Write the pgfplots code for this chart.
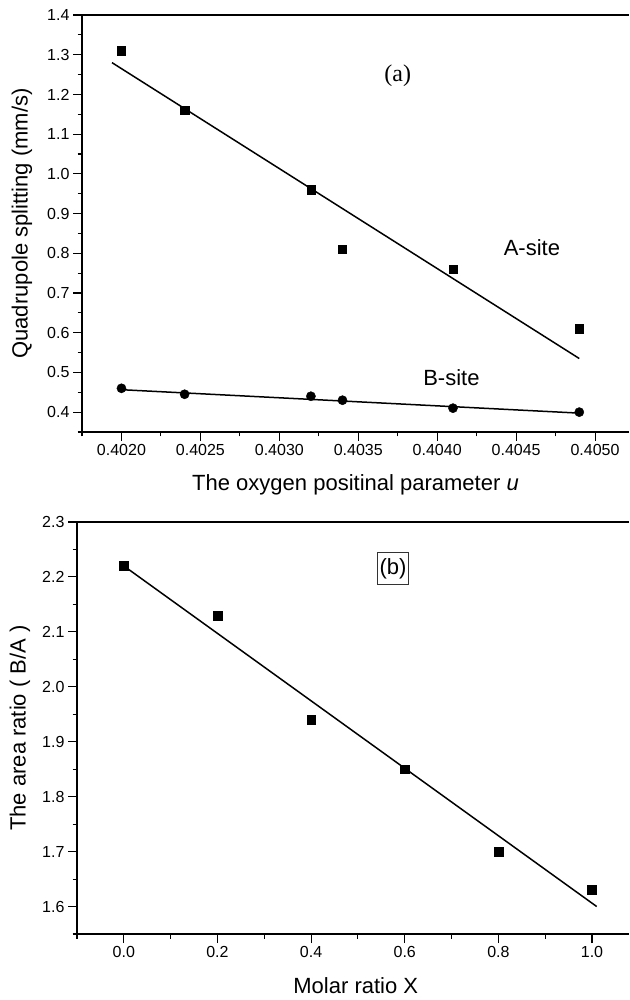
\documentclass[border=0pt]{standalone}
\usepackage{fontspec}
\setmainfont{Liberation Sans}
\newfontfamily\seriffont{Liberation Serif}
\usepackage{pgfplots}
\pgfplotsset{compat=1.18}
\pgfplotsset{
  myaxis/.style={
    scale only axis,
    axis x line*=box, axis y line*=left,
    axis line style={-, line width=1.2pt, black},
    xtick pos=bottom, ytick pos=left,
    tick align=outside,
    major tick length=9pt, minor tick length=4.5pt,
    tick style={black, line width=1.1pt},
    /pgf/number format/assume math mode=true,
    ticklabel style={font=\fontsize{16}{19}\selectfont},
    label style={font=\fontsize{22}{26}\selectfont},
    clip=false,
  }
}
\begin{document}
\begin{tikzpicture}
% ---------------- panel (a)
\begin{axis}[myaxis,
  at={(82pt,568pt)}, anchor=south west,
  width=547pt, height=417pt,
  xmin=0.40175, xmax=0.405215, ymin=0.35, ymax=1.4,
  xtick={0.4020,0.4025,0.4030,0.4035,0.4040,0.4045,0.4050},
  minor xtick={0.40175,0.40225,0.40275,0.40325,0.40375,0.40425,0.40475},
  ytick={0.4,0.5,0.6,0.7,0.8,0.9,1.0,1.1,1.2,1.3,1.4},
  minor ytick={0.35,0.45,0.55,0.65,0.75,0.85,0.95,1.05,1.15,1.25,1.35},
  xticklabel style={/pgf/number format/.cd, fixed, fixed zerofill, precision=4},
  yticklabel style={/pgf/number format/.cd, fixed, fixed zerofill, precision=1},
  xlabel={The oxygen positinal parameter \textit{u}},
  ylabel={Quadrupole splitting (mm/s)},
  xlabel style={at={(axis description cs:0.5,-0.1415)}, anchor=base},
  ylabel style={at={(axis description cs:-0.1097,0.5)}, anchor=center},
]
\addplot[only marks, mark=square*, mark size=4.15pt, black] coordinates {
  (0.4020,1.31) (0.4024,1.16) (0.4032,0.96) (0.4034,0.81) (0.4041,0.76) (0.4049,0.61)};
\addplot[black, line width=1.5pt, no marks] coordinates {(0.40194,1.28) (0.4049,0.535)};
\addplot[only marks, mark=*, mark size=4.6pt, black] coordinates {
  (0.4020,0.46) (0.4024,0.445) (0.4032,0.44) (0.4034,0.43) (0.4041,0.41) (0.4049,0.40)};
\addplot[black, line width=1.5pt, no marks] coordinates {(0.4020,0.4565) (0.4049,0.3975)};
\node[font=\seriffont\fontsize{24}{28}\selectfont] at (axis cs:0.40375,1.246) {(a)};
\node[font=\fontsize{22}{26}\selectfont] at (axis cs:0.40460,0.814) {A-site};
\node[font=\fontsize{22}{26}\selectfont] at (axis cs:0.40409,0.4867) {B-site};
\end{axis}
% ---------------- panel (b)
\begin{axis}[myaxis,
  at={(77pt,66pt)}, anchor=south west,
  width=552pt, height=412pt,
  xmin=-0.1, xmax=1.079, ymin=1.55, ymax=2.3,
  xtick={0,0.2,0.4,0.6,0.8,1.0},
  minor xtick={-0.1,0.1,0.3,0.5,0.7,0.9},
  ytick={1.6,1.7,1.8,1.9,2.0,2.1,2.2,2.3},
  minor ytick={1.55,1.65,1.75,1.85,1.95,2.05,2.15,2.25},
  xticklabel style={/pgf/number format/.cd, fixed, fixed zerofill, precision=1},
  yticklabel style={/pgf/number format/.cd, fixed, fixed zerofill, precision=1},
  xlabel={Molar ratio X},
  ylabel={The area ratio ( B/A )},
  xlabel style={at={(axis description cs:0.505,-0.1456)}, anchor=base},
  ylabel style={at={(axis description cs:-0.1033,0.5)}, anchor=center},
]
\addplot[only marks, mark=square*, mark size=4.4pt, black] coordinates {
  (0.0,2.22) (0.2,2.13) (0.4,1.94) (0.6,1.85) (0.8,1.70) (1.0,1.63)};
\addplot[black, line width=1.5pt, no marks] coordinates {(0.0,2.22) (1.01,1.60)};
\node[draw=black!80, line width=0.6pt, inner xsep=2pt, inner ysep=2pt, minimum height=32pt,
  font=\fontsize{22}{26}\selectfont] at (axis cs:0.575,2.215) {(b)};
\end{axis}
\pgfresetboundingbox
\path[use as bounding box] (0pt,0pt) rectangle (629pt,1000pt);
\end{tikzpicture}
\end{document}
